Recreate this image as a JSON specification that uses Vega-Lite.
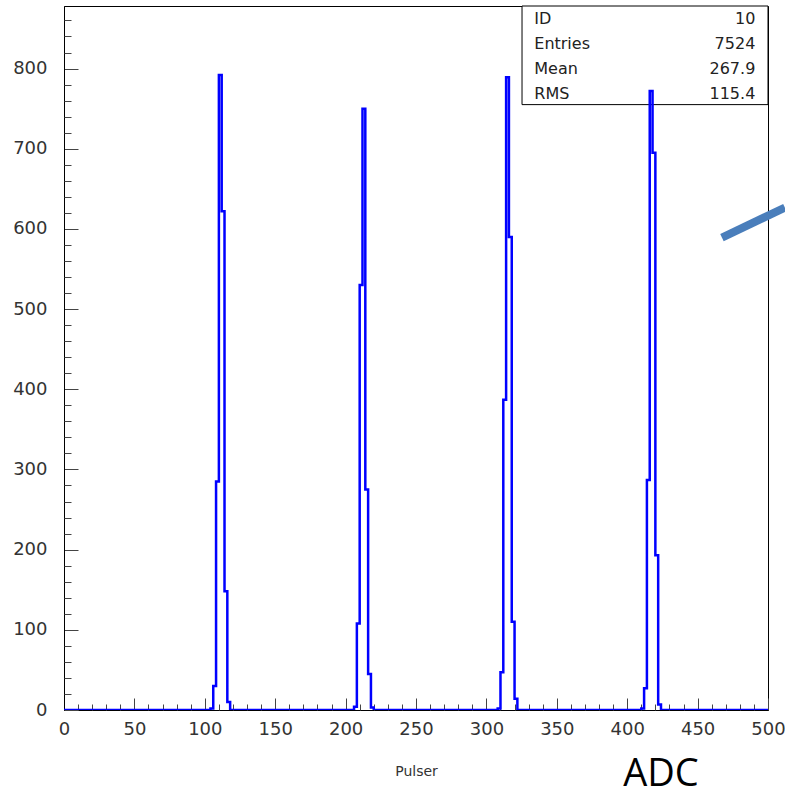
{
  "$schema": "https://vega.github.io/schema/vega-lite/v6.json",
  "width": 704,
  "height": 704,
  "autosize": {"type": "none"},
  "padding": {"left": 64, "top": 6, "right": 17, "bottom": 82},
  "background": "white",
  "config": {
    "view": {"stroke": "#000", "strokeWidth": 1},
    "axis": {"grid": false, "labelFont": "DejaVu Sans", "titleFont": "DejaVu Sans", "titleFontWeight": "normal"}
  },
  "datasets": {
    "hist": [
      {"adc": 0, "count": 0},
      {"adc": 102, "count": 0}, {"adc": 104, "count": 2}, {"adc": 106, "count": 30}, {"adc": 108, "count": 285},
      {"adc": 110, "count": 792}, {"adc": 112, "count": 622}, {"adc": 114, "count": 148}, {"adc": 116, "count": 10},
      {"adc": 118, "count": 0},
      {"adc": 204, "count": 0}, {"adc": 206, "count": 4}, {"adc": 208, "count": 108}, {"adc": 210, "count": 530},
      {"adc": 212, "count": 750}, {"adc": 214, "count": 275}, {"adc": 216, "count": 45}, {"adc": 218, "count": 3},
      {"adc": 220, "count": 0},
      {"adc": 306, "count": 0}, {"adc": 308, "count": 2}, {"adc": 310, "count": 47}, {"adc": 312, "count": 387},
      {"adc": 314, "count": 789}, {"adc": 316, "count": 590}, {"adc": 318, "count": 110}, {"adc": 320, "count": 14},
      {"adc": 322, "count": 0},
      {"adc": 408, "count": 0}, {"adc": 410, "count": 2}, {"adc": 412, "count": 27}, {"adc": 414, "count": 287},
      {"adc": 416, "count": 772}, {"adc": 418, "count": 695}, {"adc": 420, "count": 193}, {"adc": 422, "count": 7},
      {"adc": 424, "count": 0},
      {"adc": 500, "count": 0}
    ],
    "stats": [
      {"stat": "ID", "value": "10"},
      {"stat": "Entries", "value": "7524"},
      {"stat": "Mean", "value": "267.9"},
      {"stat": "RMS", "value": "115.4"}
    ]
  },
  "layer": [
    {
      "layer": [
        {
          "data": {"values": [{}]},
          "mark": {"type": "rect", "fill": "white", "stroke": "#000", "strokeWidth": 1},
          "encoding": {
            "x": {"datum": 325.3, "type": "quantitative", "scale": {"domain": [0, 500], "nice": false}, "axis": null},
            "x2": {"datum": 500},
            "y": {"datum": 755, "type": "quantitative", "scale": {"domain": [0, 878], "nice": false}, "axis": null},
            "y2": {"datum": 878}
          }
        },
        {
          "data": {"name": "hist"},
          "mark": {"type": "line", "interpolate": "step-after", "color": "#0000ff", "strokeWidth": 2.5, "clip": true},
          "encoding": {
            "x": {
              "field": "adc", "type": "quantitative",
              "scale": {"domain": [0, 500], "nice": false},
              "axis": {
                "values": [0, 50, 100, 150, 200, 250, 300, 350, 400, 450, 500],
                "tickSize": -12, "tickColor": "#444", "domainColor": "#000",
                "labelFontSize": 18, "labelColor": "#333", "labelPadding": 22, "labelFlush": false,
                "title": "Pulser", "titleFontSize": 14, "titleColor": "#333", "titlePadding": 26
              }
            },
            "y": {
              "field": "count", "type": "quantitative",
              "scale": {"domain": [0, 878], "nice": false},
              "axis": {
                "values": [0, 100, 200, 300, 400, 500, 600, 700, 800],
                "tickSize": -14, "tickColor": "#444", "domainColor": "#000",
                "labelFontSize": 18, "labelColor": "#333", "labelPadding": 31, "labelFlush": false,
                "title": null
              }
            }
          }
        },
        {
          "data": {"name": "hist"},
          "mark": {"type": "line", "opacity": 0},
          "encoding": {
            "x": {
              "field": "adc", "type": "quantitative",
              "scale": {"domain": [0, 500], "nice": false},
              "axis": {
                "orient": "bottom",
                "values": [10, 20, 30, 40, 60, 70, 80, 90, 110, 120, 130, 140, 160, 170, 180, 190, 210, 220, 230, 240, 260, 270, 280, 290, 310, 320, 330, 340, 360, 370, 380, 390, 410, 420, 430, 440, 460, 470, 480, 490],
                "tickSize": -6, "tickColor": "#444", "labels": false, "domain": false, "title": null
              }
            },
            "y": {
              "field": "count", "type": "quantitative",
              "scale": {"domain": [0, 878], "nice": false},
              "axis": {
                "orient": "left",
                "values": [20, 40, 60, 80, 120, 140, 160, 180, 220, 240, 260, 280, 320, 340, 360, 380, 420, 440, 460, 480, 520, 540, 560, 580, 620, 640, 660, 680, 720, 740, 760, 780, 820, 840, 860],
                "tickSize": -7, "tickColor": "#444", "labels": false, "domain": false, "title": null
              }
            }
          }
        },
        {
          "data": {"values": [{}]},
          "mark": {"type": "rule", "color": "#4a7ebb", "strokeWidth": 8, "strokeCap": "butt", "clip": false},
          "encoding": {
            "x": {"datum": 467.3, "type": "quantitative", "axis": null},
            "y": {"datum": 589, "type": "quantitative", "axis": null},
            "x2": {"datum": 512},
            "y2": {"datum": 626.7}
          }
        },
        {
          "data": {"values": [{}]},
          "mark": {"type": "text", "text": "ADC", "font": "Open Sans", "fontSize": 38, "color": "#000", "align": "center", "baseline": "alphabetic"},
          "encoding": {
            "x": {"datum": 424, "type": "quantitative", "axis": null},
            "y": {"datum": -95, "type": "quantitative", "axis": null}
          }
        }
      ],
      "resolve": {"axis": {"x": "independent", "y": "independent"}}
    },
    {
      "data": {"name": "stats"},
      "transform": [{"window": [{"op": "row_number", "as": "row"}]}],
      "layer": [
        {
          "mark": {"type": "text", "align": "left", "baseline": "middle", "font": "DejaVu Sans", "fontSize": 16, "color": "#222"},
          "encoding": {
            "x": {"datum": 334, "type": "quantitative", "axis": null},
            "y": {"field": "row", "type": "quantitative", "scale": {"domain": [0.48, 28.64], "reverse": true, "nice": false, "zero": false}, "axis": null},
            "text": {"field": "stat"}
          }
        },
        {
          "mark": {"type": "text", "align": "right", "baseline": "middle", "font": "DejaVu Sans", "fontSize": 16, "color": "#222"},
          "encoding": {
            "x": {"datum": 491, "type": "quantitative", "axis": null},
            "y": {"field": "row", "type": "quantitative", "axis": null},
            "text": {"field": "value"}
          }
        }
      ]
    }
  ],
  "resolve": {"scale": {"y": "independent"}, "axis": {"x": "independent", "y": "independent"}}
}
